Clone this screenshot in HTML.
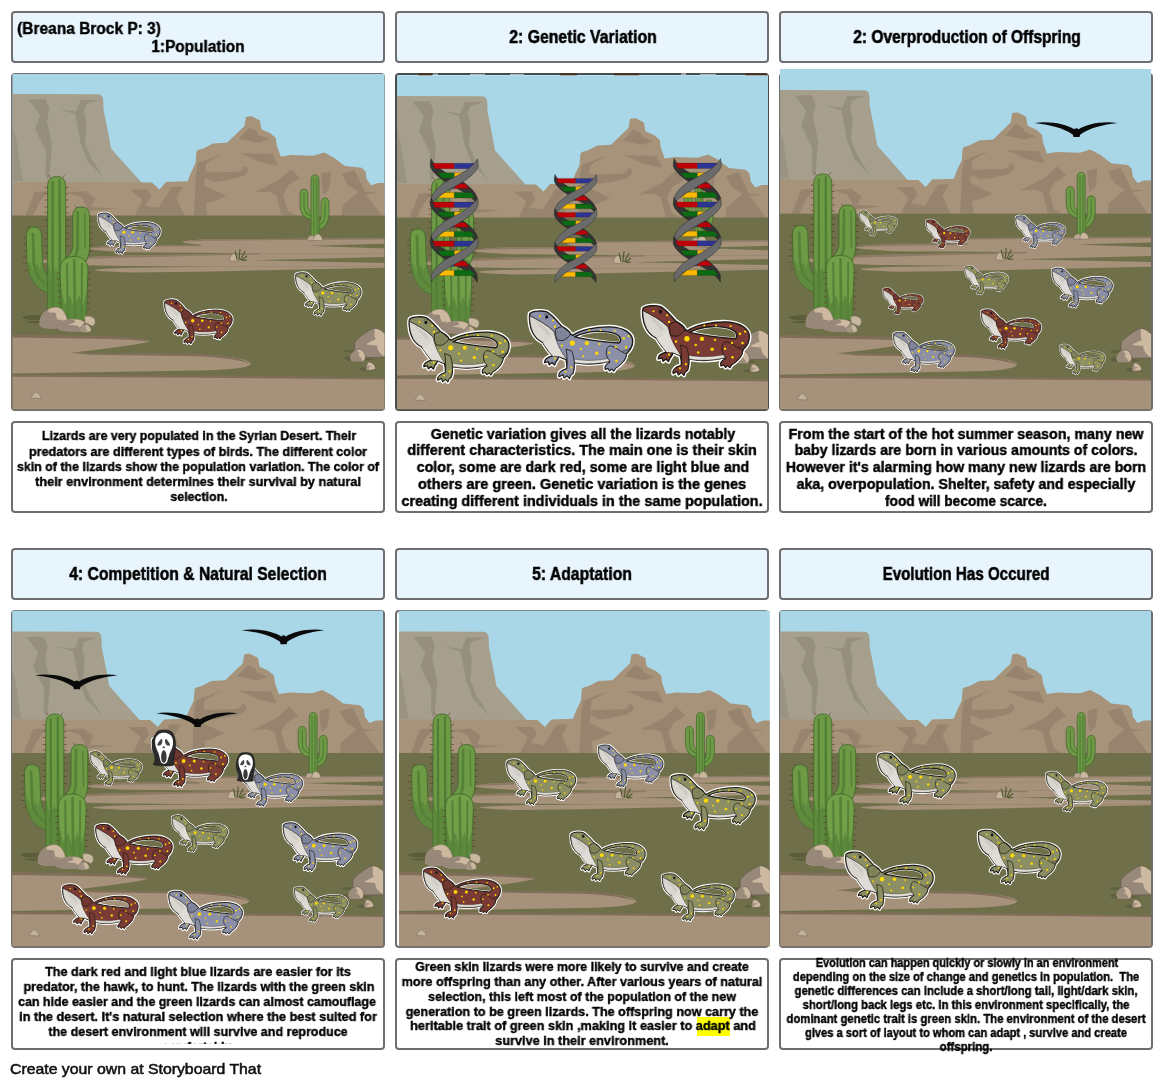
<!DOCTYPE html>
<html lang="en">
<head>
<meta charset="utf-8">
<title>Storyboard</title>
<style>
html,body{margin:0;padding:0;background:#fff;}
body{width:1165px;height:1087px;position:relative;overflow:hidden;font-family:"Liberation Sans",sans-serif;color:#000;}
.t,.i,.d{position:absolute;box-sizing:border-box;border:2px solid #6e6e6e;border-radius:4px;}
.t{height:52px;width:374px;background:#e8f5fd;}
.i{height:338px;width:374px;background:#fff;}
.i svg{position:absolute;left:-2px;top:-2px;width:374px;height:338px;overflow:visible;}
.d{height:92px;width:374px;background:#fff;overflow:hidden;}
.ln{position:absolute;white-space:nowrap;font-weight:bold;transform-origin:50% 50%;will-change:transform;}
.foot{position:absolute;left:10px;top:1059.8px;font-size:15px;line-height:18px;color:#111;white-space:nowrap;-webkit-text-stroke:0.55px #111;transform-origin:0 0;transform:scaleX(1.054);will-change:transform;}
</style>
</head>
<body>

<svg width="0" height="0" style="position:absolute">
<defs>
<clipPath id="cp"><rect x="0" y="0" width="374" height="338" rx="3"/></clipPath>
<g id="cactusBig">
  <!-- left arm -->
  <path d="M15.2,163 Q15.2,154 23,154 Q30.4,154 30.6,163 L31.3,186 Q32.5,200 38,205 L38,220 Q19,215 16,190 Z" fill="#6e9a46" stroke="#3f6429" stroke-width="0.8"/>
  <path d="M20.5,160 L21.5,192 Q24,208 38,213.5 L38,211 Q26.5,206 24.3,191 L23.2,160 Z" fill="#568238"/><path d="M16,190 Q19,215 38,220 L38,205 Q32.5,200 31.3,186 L29,196 L26,190 L22,198 L18,188 Z" fill="#568238" opacity="0.6"/>
  <!-- right arm -->
  <path d="M78.6,143 Q78.6,134 70.2,134 Q61.8,134 61.8,143 L61.8,172 Q61.5,182 53,186 L53,202 Q78,198 78.6,174 Z" fill="#6e9a46" stroke="#3f6429" stroke-width="0.8"/>
  <path d="M68,138 L68,176 Q66,190 54,195 L54,192 Q64,187 65,175 L65.5,138 Z" fill="#568238"/>
  <path d="M73,140 L73.5,176 L75,176 L74.5,140 Z" fill="#568238"/>
  <!-- trunk -->
  <path d="M36.6,113 Q36.6,103.5 45.6,103.5 Q54.6,103.5 54.6,113 L54.6,238 L36.6,238 Z" fill="#6e9a46" stroke="#3f6429" stroke-width="0.8"/>
  <path d="M40.5,108 L40.5,238 L43,238 L42.5,108 Z M47.5,106 L47.5,238 L50.5,238 L49.5,106 Z" fill="#4f7d34"/>
  <path d="M36.6,190 L41,205 L45,195 L49,208 L54.6,190 L54.6,238 L36.6,238 Z" fill="#568238" opacity="0.7"/>
  <!-- front -->
  <path d="M49,197 Q49,183.4 63,183.4 Q77,183.4 77,197 L75,247 L51,247 Z" fill="#72a049" stroke="#3f6429" stroke-width="0.8"/>
  <path d="M55,190 L55.5,247 L58,247 L57,190 Z M62,186 L62.5,247 L65.5,247 L64.5,186 Z M70,190 L69.5,247 L71.5,247 L72,190 Z" fill="#568238"/>
  <path d="M50,215 L54,232 L59,222 L63,236 L68,222 L72,233 L76.5,215 L75,247 L51,247 Z" fill="#568238" opacity="0.75"/>
  <!-- spines -->
  <g stroke="#5a3a24" stroke-width="0.6">
   <path d="M36.6,115 l-3,-1 M36.6,127 l-3,0 M36.6,140 l-3,-1 M36.6,153 l-3,0 M36.6,166 l-3,0 M36.6,180 l-3,0 M54.6,115 l3,-1 M54.6,127 l3,0 M54.6,140 l3,0 M54.6,153 l3,0 M54.6,166 l3,0 M15.2,165 l-3,0 M15.2,178 l-3,0 M15.2,190 l-3,0 M78.6,148 l3,0 M78.6,160 l3,0 M78.6,172 l3,0 M77,200 l3,0 M76.6,212 l3,0 M76.2,224 l3,0 M75.8,236 l3,0 M49,200 l-3,0 M49.5,212 l-3,0 M50,224 l-3,0 M39,104.5 l-1.5,-2.5 M52,104.5 l1.5,-2.5 M18,155.5 l-1.5,-2.5 M66,135 l-1.5,-2.5 M36.6,121 l-3,-0.5 M36.6,134 l-3,0 M36.6,147 l-3,0 M36.6,160 l-3,0 M36.6,173 l-3,0 M54.6,121 l3,-0.5 M54.6,134 l3,0 M54.6,147 l3,0 M54.6,160 l3,0 M54.6,173 l3,0 M15.2,171 l-3,0 M15.2,184 l-3,0 M16.5,197 l-3,0.5 M78.6,154 l3,0 M78.6,166 l3,0 M78.4,178 l3,0 M77,206 l3,0 M76.4,218 l3,0 M76,230 l3,0 M49,206 l-3,0 M49.7,218 l-3,0 M50.3,230 l-3,0"/>
  </g>
</g>
<g id="cactusSmall">
  <path d="M289,121 Q289,116 293,116 Q297,116 297,121 L297,133 Q297,138 301,139.5 L301,147 Q289.5,145 289,133 Z" fill="#6e9a46" stroke="#3f6429" stroke-width="0.7"/>
  <path d="M318,130 Q318,125 314,125 Q310,125 310,130 L310,143 Q310,148 307,150 L307,157 Q317.5,154 318,142 Z" fill="#6e9a46" stroke="#3f6429" stroke-width="0.7"/>
  <path d="M300,107 Q300,102 304,102 Q308,102 308,107 L308,164 L300,164 Z" fill="#6e9a46" stroke="#3f6429" stroke-width="0.7"/>
  <path d="M302.3,105 L302.3,164 L303.5,164 L303.3,105 Z M305.3,105 L305.3,164 L306.5,164 L306.3,105 Z M292.5,119 L292.5,134 Q293,141 300,143.5 L300,142 Q294,140 293.7,134 L293.5,119 Z M314.5,128 L314.5,143 Q314,150 308,153 L308,151.5 Q313,149 313.3,143 L313.5,128 Z" fill="#4f7d34"/>
  <path d="M296.5,167.5 Q296.5,162.5 301,162.5 Q304,162.5 305,167.5 Z" fill="#b9a790" stroke="#7d6e5f" stroke-width="0.5"/>
  <path d="M302.5,167.5 Q303,161 307,161 Q311,162 311.5,167.5 Z" fill="#c9b8a0" stroke="#7d6e5f" stroke-width="0.5"/>
</g>
<g id="bg">
  <rect x="0" y="-8" width="374" height="150" fill="#a9d7e8"/>
  <!-- far mesa -->
  <path d="M0,21 L86,21.3 Q92,21.3 92.2,27 L92.6,37 L98,64 L100,75.5 L131.6,110.8 L142,116 L0,116 Z" fill="#a69f8d"/>
  <path d="M17.5,26.5 L34.5,26.2 L38.5,35 L36,48 L41,72 L38.5,100 L36.5,108 L34.5,100 L35,78 L24,56 L29,42 Z" fill="#968f80"/>
  <path d="M47,36 L65,38.5 L70,27 L88,27 L75,31.5 L73,38 L75.5,50 L74,70 L80,85 L93,105 L77,89 L69.5,70 L66,50 L64,41 Z" fill="#968f80"/>
  <path d="M0,48 L6,70 L9,90 L12,108 L0,108 Z" fill="#9a9383"/>
  <!-- mid ridge -->
  <path d="M0,109 L141,109.5 L148.5,116.4 L155,109 L176.6,108.3 L180,99.5 L184.6,90 L185.4,78.6 L187,77 L192.6,75.4 L202,70.6 L216,69.8 L233.5,53 L235,44 Q238,43 240.8,43.3 L248.8,47.4 L250.4,56.2 L259.2,60.2 L264.8,65 L265.7,72.2 L269.7,83.5 L280,82 L302.6,82.7 L313,79.5 L323.4,85 L333.9,93 L350.7,94.7 L354.7,98.7 L355.5,106 L360.3,112.4 L366.8,110 L374,110 L374,144 L0,144 Z" fill="#a6937a"/>
  <g fill="#96846f">
   <path d="M228,65.8 L238.4,54.6 L245.6,57.8 L247.2,61.8 L258.4,66.6 L247.2,69.8 Z"/>
   <path d="M229.5,80.3 L261.6,81 L267.3,93.1 L249.6,89 Z"/>
   <path d="M194,99.5 L227,98.7 Q233,97 232.7,93 Q238,94 236.8,98 Q236,102 228.7,104.3 Q215,108 203,109 L193.4,104.3 Z"/>
   <path d="M187,90 L212.7,80.3 L195,90 L193.4,112.4 L215,122.8 L201.4,129.2 L195,130 L196.6,142.5 L183,142.5 L185,100 Z"/>
   <path d="M243.2,119.6 L267.3,107.5 L280,96.3 L289,105 L277,112.4 L272,122 L277,138 L285,142.5 L270.5,142.5 L265.6,122 L257.6,118.8 Z"/>
   <path d="M309.8,100.3 L320.2,98 L318.6,115.6 L312.2,122 Z"/>
   <path d="M330.7,101 L343.5,97 L354,118.8 L368.4,119.6 L354.7,121.2 L370.8,142.5 L330.7,142.5 L331.5,132.4 L347.5,118.8 L337,112.4 Z"/>
   <path d="M14.4,142.5 L24,118.8 L37,118 L28,130 L22,142.5 Z"/>
   <path d="M56,119.6 L73.8,118 L84.3,125.2 L80.3,134 L106,135.6 L77,138 L74,130 L70,124 Z"/>
   <path d="M118.8,116.4 L136.4,116.4 L140.4,123.6 L134,132.4 L147.7,134.8 L160.5,114 L171.7,114 L165.3,125.2 L173.4,142.5 L123.6,142.5 L131.6,126.8 Z"/>
  </g>
  <!-- ground -->
  <rect x="0" y="142.5" width="374" height="200" fill="#6f7049"/>
  <!-- sand bands upper -->
  <g fill="#a6917a">
   <path d="M374,165.3 L195,166.3 Q148,168.8 195,172.2 L374,172.2 Z"/>
   <path d="M374,172 L115,172 Q42,175.5 115,179.3 L250,180.3 L374,180.3 Z"/>
   <path d="M374,180.2 L250,180.2 L115,182.6 Q55,184.5 12,188.2 Q55,192.3 115,193 L200,193.8 L374,193.8 Z"/>
   <path d="M374,193.7 L200,193.7 L120,194.7 Q47,197 120,199.5 L187,198.7 L374,194.7 Z"/>
  </g>
  <path d="M374,165.3 L195,166.3 Q172,167.5 172,168.6 Q185,167.3 374,166.6 Z M115,172 Q80,173.5 79,175.6 Q95,173.8 190,173.3 L190,172 Z M250,180.2 L115,182.6 Q55,184.5 12,188.2 Q60,185.6 250,181.4 Z" fill="#86745f" opacity="0.8"/>
  <path d="M374,170.8 L299,172.8 L374,175.4 Z M374,184 L240,187.3 L374,190 Z" fill="#6f7049"/>
  <!-- sand lower -->
  <path d="M0,262 L100,264 Q139,266 138.8,268.5 Q120,273 59.4,279.8 L187,281.4 Q240,284 240,291 Q235,297 187,297.4 L0,300.6 Z" fill="#a6917a"/>
  <path d="M0,261.6 L100,263.2 Q135,265 138.8,268.5 Q122,266.6 100,266 L0,264.4 Z M59.4,279.8 L187,280.4 Q230,283 240,291 Q225,285 187,283.2 L80,281.8 Z" fill="#806e5b"/>
  <path d="M0,302.5 L187,303.5 L374,305.4 L374,342 L0,342 Z" fill="#a6917a"/>
  <path d="M0,301.5 L187,302.5 L374,304.4 L374,306.4 L187,304.8 L0,303.8 Z" fill="#806e5b"/>
  <!-- shadows -->
  <path d="M11,244.5 Q14,241.5 30,242 L30,247 Q14,247.5 11,244.5 Z M13.5,249 Q20,247.5 29,248 L29,250 Q20,250.5 13.5,249 Z" fill="#5b5c3a"/>
  
  <!-- rocks left -->
  <use href="#cactusBig"/>
  <path d="M73.5,243.6 C77.0,242.3 81.3,243.2 83.8,246.2 C84.7,249.6 83.8,252.2 81.3,253.1 L77.0,250.9 L74.0,249.6 Z" fill="#c9b8a0" stroke="#7d6e5f" stroke-width="0.5"/>
  <path d="M28.9,253.1 C28.0,246.2 29.8,241.0 36.6,236.7 C41.8,233.3 48.6,232.9 52.1,237.6 C54.6,241.0 55.9,244.5 56.4,247.0 L46.1,251.3 L45.2,255.2 C38.3,255.6 31.5,255.6 28.9,253.1 Z" fill="#cdb9a0" stroke="#7d6e5f" stroke-width="0.5"/>
  <path d="M28.9,253.1 C28.0,246.2 29.8,241.0 36.6,236.7 L38.3,239.7 C41.8,239.3 46.1,239.7 45.2,241.9 C44.3,243.6 46.9,244.5 46.1,246.6 L52.1,247.0 L46.1,251.3 L45.2,255.2 C38.3,255.6 31.5,255.6 28.9,253.1 Z" fill="#98887a"/>
  <path d="M45.6,254.8 C45.2,251.3 48.6,248.8 55.5,247.0 C62.4,245.3 71.0,245.8 74.0,249.6 L69.2,254.8 L69.2,258.2 C59.8,259.1 48.6,258.6 45.6,254.8 Z" fill="#cdb9a0" stroke="#7d6e5f" stroke-width="0.5"/>
  <path d="M45.6,254.8 C45.2,251.3 48.6,248.8 55.5,247.0 L63.2,246.6 L64.1,249.6 L57.2,251.8 L65.8,252.6 L69.2,254.8 L69.2,258.2 C59.8,259.1 48.6,258.6 45.6,254.8 Z" fill="#98887a"/>
  <path d="M69.2,258.2 C68.8,254.8 71.8,251.3 75.2,251.2 C78.7,252.2 80.4,255.6 80.0,258.2 C77.0,259.5 71.8,259.5 69.2,258.2 Z" fill="#c9b8a0" stroke="#7d6e5f" stroke-width="0.5"/>
  <path d="M69.2,258.2 C68.8,254.8 71.8,251.3 75.2,251.2 L74.4,254.8 L76.1,257.3 L75.2,259.1 C72.7,259.2 71.0,259.1 69.2,258.2 Z" fill="#a39382"/>
  <!-- rocks right -->
  <path d="M332.3,278.2 C335.0,276.5 340.6,276.8 343.6,277.1 L343.6,279.6 C339.5,279.7 335.0,279.6 332.3,278.2 Z M332.8,285.6 C334.5,283.4 337.2,283.1 339.5,283.4 L340.6,288.1 C337.2,288.1 333.9,287.6 332.8,285.6 Z M347.7,295.8 C349.9,293.9 353.8,293.9 355.5,294.5 L355.7,297.5 C352.7,297.8 349.4,297.5 347.7,295.8 Z M364.3,296.7 L368.2,297.2 L364.6,297.7 Z M354.6,285.1 L363.7,286.7 L354.9,287.8 Z" fill="#5f6040"/>
  <path d="M343.6,277.1 L343.9,269.1 C347.2,264.7 354.9,258.6 362.6,255.3 C367.0,255.3 370.9,258.0 373.1,260.2 L374.2,260.8 L374.2,284.3 L355.5,284.5 Z" fill="#98887a" stroke="#5e5248" stroke-width="0.6"/>
  <path d="M363.7,255.8 C367.0,255.3 370.9,258.0 373.1,260.2 L374.2,260.8 L374.2,283.7 C370.4,282.3 367.6,279.0 366.5,275.7 L365.9,272.4 L356.6,271.8 L355.5,270.7 L364.8,266.3 L363.5,263.6 Z" fill="#cdb9a0"/>
  <path d="M339.2,285.1 C338.9,282.3 341.7,277.9 347.7,276.0 C351.6,276.2 354.1,280.1 354.6,283.4 C354.4,286.7 352.7,288.4 351.6,288.4 L340.6,288.3 Z" fill="#cdb9a0" stroke="#5e5248" stroke-width="0.6"/>
  <path d="M339.2,285.1 C338.9,282.3 341.7,277.9 345.5,276.7 L348.8,280.7 L347.2,281.8 L350.5,285.6 L351.6,288.4 L340.6,288.3 Z" fill="#9c8c7c"/>
  <path d="M355.5,296.7 C354.9,292.8 356.0,289.5 358.2,288.9 C361.5,289.5 364.3,292.3 364.6,295.6 C363.7,297.2 357.1,297.5 355.5,296.7 Z" fill="#cdb9a0" stroke="#5e5248" stroke-width="0.6"/>
  <path d="M355.5,296.7 C355.2,293.9 355.5,291.2 356.6,290.0 L357.7,292.8 L361.5,293.1 L358.2,294.5 L357.1,296.9 Z" fill="#a39382"/>
  <!-- pebble, grass -->
  <path d="M20,325 Q22,320 25.5,319 Q29,321 30.5,325.5 Z" fill="#c4b39b" stroke="#7d6e5f" stroke-width="0.6"/>
  <path d="M218.3,188 Q219,181 223,180.5 Q227,182 227.5,188.3 Z" fill="#c4b39b" stroke="#7d6e5f" stroke-width="0.6"/>
  <path d="M226,187 L224,178 M228,187 L229,176 M229.5,187 L234,178 M230.5,187.3 L236,183 M231,187.5 L236,187" stroke="#4c5a2c" stroke-width="1.1" fill="none"/>
  <use href="#cactusSmall"/>
</g>
<symbol id="liz" viewBox="54 84 1037 692" overflow="visible">
  <path id="lizS" fill-rule="evenodd" d="M80,128 C110,100 200,98 245,112 C290,135 340,195 388,250 C420,268 462,290 472,322 L492,338 C570,285 720,252 860,256 C990,262 1072,320 1072,392 C1072,440 1050,480 1012,515 C1010,540 1000,565 985,585 C960,620 930,640 905,655 L890,682 L870,660 L850,680 L835,655 L808,665 C800,640 815,615 850,600 L855,585 C760,612 620,622 508,600 C510,640 505,680 495,705 L470,725 L462,752 L440,725 L410,748 L400,715 L362,735 C355,700 385,675 438,660 C440,630 436,600 428,570 C405,562 380,550 360,540 C355,560 345,580 330,595 L318,625 L295,600 L268,622 L258,592 L222,600 C220,570 250,548 300,535 C260,490 225,440 205,405 C130,370 78,290 76,160 Z M498,352 C640,279 818,277 915,318 C968,341 977,399 946,421 C800,409 650,395 498,352 Z" fill="#fff" stroke="#fff" stroke-width="40" stroke-linejoin="round"/>
  <path fill-rule="evenodd" d="M80,128 C110,100 200,98 245,112 C290,135 340,195 388,250 C420,268 462,290 472,322 L492,338 C570,285 720,252 860,256 C990,262 1072,320 1072,392 C1072,440 1050,480 1012,515 C1010,540 1000,565 985,585 C960,620 930,640 905,655 L890,682 L870,660 L850,680 L835,655 L808,665 C800,640 815,615 850,600 L855,585 C760,612 620,622 508,600 C510,640 505,680 495,705 L470,725 L462,752 L440,725 L410,748 L400,715 L362,735 C355,700 385,675 438,660 C440,630 436,600 428,570 C405,562 380,550 360,540 C355,560 345,580 330,595 L318,625 L295,600 L268,622 L258,592 L222,600 C220,570 250,548 300,535 C260,490 225,440 205,405 C130,370 78,290 76,160 Z M512,352 C640,288 815,286 910,326 C958,348 966,394 940,412 C800,400 650,386 512,352 Z" fill="currentColor" stroke="#1c1a14" stroke-width="13" stroke-linejoin="round"/>
  <!-- throat / chest -->
  <path d="M82,150 C150,185 250,235 312,300 C322,390 370,480 430,567 L360,540 L300,535 C260,490 225,440 205,405 C130,370 80,290 78,160 Z" fill="#d9d5cf" stroke="#1c1a14" stroke-width="8" stroke-linejoin="round"/>
  <path d="M205,405 C250,410 290,380 312,300 C322,390 370,480 430,567 L360,540 L300,535 C260,490 225,440 205,405 Z" fill="#e0ddd8"/>
  <path d="M140,205 C200,240 250,280 268,330 M165,240 C210,270 240,300 250,335" fill="none" stroke="#aaa59d" stroke-width="5"/>
  <!-- belly -->
  <path d="M508,566 C620,590 760,580 855,556 L855,585 C760,612 620,622 508,600 Z" fill="#e4e1dc" stroke="#26241c" stroke-width="4" stroke-linejoin="round"/>
  <!-- legs -->
  <path d="M430,470 C442,540 442,600 438,660 C385,675 355,700 362,735 L400,715 L410,748 L440,725 L462,752 L470,725 L495,705 C505,680 510,640 508,600 C505,560 498,520 485,490 Z" fill="currentColor" stroke="#1c1a14" stroke-width="8" stroke-linejoin="round"/>
  <path d="M1012,515 C960,505 905,440 850,440 C812,452 806,520 832,560 C846,580 856,590 850,600 C815,615 800,640 808,665 L835,655 L850,680 L870,660 L890,682 L905,655 C930,640 960,620 985,585 C1000,565 1010,540 1012,515 Z" fill="currentColor" stroke="#1c1a14" stroke-width="8" stroke-linejoin="round"/>
  <path d="M975,490 C1000,490 1030,478 1045,462" fill="none" stroke="#26241c" stroke-width="7"/>
  <!-- frill -->
  <path d="M330,275 C325,320 330,360 345,385 L400,388 C440,370 465,345 472,322 C450,300 420,275 388,252 Z" fill="currentColor" stroke="#1c1a14" stroke-width="8" stroke-linejoin="round"/>
  <path d="M330,275 C325,320 330,360 345,385 L400,388 C440,370 465,345 472,322 C450,300 420,275 388,252 Z" fill="#000" opacity="0.05"/>
  <path d="M350,300 L362,380 M375,295 L395,380 M400,295 L430,362" fill="none" stroke="#26241c" stroke-width="3" opacity="0.5"/>
  <!-- eye -->
  <ellipse cx="243" cy="161" rx="15" ry="17" fill="#111"/>
  <path d="M215,140 C230,128 255,130 270,142" fill="none" stroke="#26241c" stroke-width="4"/>
  <!-- spots -->
  <g fill="#ffd800">
   <circle cx="178" cy="155" r="10"/><circle cx="305" cy="193" r="10"/><circle cx="323" cy="255" r="11"/>
   <circle cx="388" cy="437" r="11"/><circle cx="490" cy="412" r="25"/><circle cx="630" cy="413" r="20"/>
   <circle cx="572" cy="470" r="11"/><circle cx="595" cy="540" r="11"/><circle cx="725" cy="510" r="16"/>
   <circle cx="752" cy="422" r="11"/><circle cx="652" cy="288" r="9"/><circle cx="762" cy="288" r="10"/>
   <circle cx="898" cy="293" r="10"/><circle cx="985" cy="365" r="12"/><circle cx="1033" cy="345" r="11"/>
   <circle cx="1008" cy="452" r="12"/><circle cx="910" cy="450" r="11"/><circle cx="845" cy="505" r="11"/>
   <circle cx="915" cy="585" r="12"/><circle cx="322" cy="560" r="10"/><circle cx="480" cy="648" r="11"/>
   <circle cx="425" cy="688" r="10"/>
  </g>
</symbol>
<symbol id="dna" viewBox="58 48 304 777" preserveAspectRatio="none" overflow="visible">
  <g id="dseg">
    <path d="M65,53 C85,106 180,154 237,182 C290,210 340,252 354,296 L354,338 C335,302 280,266 220,233 C160,200 75,154 60,99 Q60,75 65,53 Z" fill="#333" stroke="#1e1e1e" stroke-width="3"/>
    <g stroke="#2a2218" stroke-width="1.5">
    <path d="M73.6,80.8 L210.7,80.8 L210.7,114.6 L90.6,114.6 Z" fill="#c00008"/><path d="M210.7,80.8 L337.6,80.8 L302,114.6 L210.7,114.6 Z" fill="#2c3494"/>
    <path d="M104,140.7 L210.7,140.7 L210.7,173.9 L132.9,173.9 Z" fill="#0b6b12"/><path d="M210.7,140.7 L270,140.7 L225,173.9 L210.7,173.9 Z" fill="#fbb900"/>
    <path d="M160,207.7 L210.7,207.7 L210.7,238 L150,238 Z" fill="#2c3494"/><path d="M210.7,207.7 L278.6,207.7 L302,238 L210.7,238 Z" fill="#c00008"/>
    <path d="M146.4,263.5 L210.7,263.5 L210.7,297.4 L109.2,297.4 Z" fill="#fbb900"/><path d="M210.7,263.5 L314,263.5 L342.7,297.4 L210.7,297.4 Z" fill="#0b6b12"/>
    </g>
    <path d="M355,53 C335,106 240,154 183,182 C130,210 80,252 66,296 L66,338 C85,302 140,266 200,233 C260,200 345,154 360,99 Q360,75 355,53 Z" fill="#6b6b6b" stroke="#2a2a2a" stroke-width="3"/>
  </g>
  <use href="#dseg" y="242.5"/>
  <use href="#dseg" y="485"/>
</symbol>
<symbol id="bird" viewBox="105 78 525 97" overflow="visible">
  <path d="M105,86 C200,72 305,92 357,126 Q371,112 385,126 C435,92 540,72 630,86 C545,96 445,120 394,160 L391,175 L352,175 L349,160 C298,120 195,96 105,86 Z" fill="#0a0a0a"/>
</symbol>
<symbol id="mask" viewBox="100 95 590 905" preserveAspectRatio="none" overflow="visible">
  <path d="M390,100 C300,95 230,110 200,180 C130,270 100,400 110,560 C115,650 160,720 175,800 C180,860 150,920 125,945 C200,990 560,1000 640,960 C610,900 640,760 660,640 C690,500 690,330 620,200 C590,120 500,100 390,100 Z" fill="#2b2b2b" stroke="#151515" stroke-width="14"/>
  <path d="M390,165 C280,165 200,230 180,340 C165,450 200,560 250,650 C280,720 290,820 320,890 C350,950 440,950 470,890 C500,810 520,700 560,620 C610,540 630,430 610,330 C590,220 500,165 390,165 Z" fill="#fff"/>
  <path d="M335,318 C300,340 240,420 228,470 C240,500 290,490 320,470 C360,440 370,350 335,318 Z M440,318 C475,340 535,420 547,470 C535,500 485,490 455,470 C415,440 405,350 440,318 Z" fill="#444"/>
  <path d="M390,495 L425,545 L405,548 L390,525 L375,548 L350,545 Z" fill="#222"/>
  <path d="M390,600 C340,610 320,700 325,790 C330,870 360,910 390,910 C425,910 455,860 458,780 C460,690 440,610 390,600 Z" fill="#3a3a3a"/>
</symbol>
</defs>
</svg>

<div class="t" style="left:11px;top:11px"><div class="ln" style="font-size:16.8px;line-height:18.9px;top:6.51px;left:76.0px;transform:translateX(-50%) scaleX(0.9233);-webkit-text-stroke:0.4px #000">(Breana Brock P: 3)</div><div class="ln" style="font-size:16.8px;line-height:18.9px;top:25.41px;left:184.9px;transform:translateX(-50%) scaleX(0.9182);-webkit-text-stroke:0.4px #000">1:Population</div></div>
<div class="i" style="left:11px;top:73px"><svg viewBox="11 73 374 338"><clipPath id="c0"><rect x="12.5" y="74" width="372" height="335.3"/></clipPath><g clip-path="url(#c0)"><use href="#bg" transform="translate(11,73) scale(1,1)"/><use href="#liz" x="96.6" y="211.8" width="65.0" height="43.2" style="color:#8b90a8"/><use href="#liz" x="163.0" y="298.4" width="70.7" height="47.0" style="color:#7a3b35"/><use href="#liz" x="294.0" y="271.4" width="68.5" height="45.5" style="color:#8b8f63"/></g></svg></div>
<div class="d" style="left:11px;top:421px;"><div class="ln" style="font-size:13.0px;line-height:15.1px;top:5.41px;left:185.6px;transform:translateX(-50%) scaleX(0.9534);-webkit-text-stroke:0.4px #000">Lizards are very populated in the Syrian Desert. Their</div><div class="ln" style="font-size:13.0px;line-height:15.1px;top:20.51px;left:184.9px;transform:translateX(-50%) scaleX(0.9691);-webkit-text-stroke:0.4px #000">predators are different types of birds. The different color</div><div class="ln" style="font-size:13.0px;line-height:15.1px;top:35.61px;left:184.9px;transform:translateX(-50%) scaleX(0.9549);-webkit-text-stroke:0.4px #000">skin of the lizards show the population variation. The color of</div><div class="ln" style="font-size:13.0px;line-height:15.1px;top:50.71px;left:184.9px;transform:translateX(-50%) scaleX(0.9780);-webkit-text-stroke:0.4px #000">their environment determines their survival by natural</div><div class="ln" style="font-size:13.0px;line-height:15.1px;top:65.81px;left:185.9px;transform:translateX(-50%) scaleX(0.9555);-webkit-text-stroke:0.4px #000">selection.</div></div>
<div class="t" style="left:395px;top:11px"><div class="ln" style="font-size:18.6px;line-height:20px;top:14.06px;left:185.5px;transform:translateX(-50%) scaleX(0.8497);-webkit-text-stroke:0.55px #000">2: Genetic Variation</div></div>
<div class="i" style="left:395px;top:73px;border-color:#474d4d"><svg viewBox="395 73 374 338"><clipPath id="c1"><rect x="397" y="75.3" width="371" height="334"/></clipPath><g clip-path="url(#c1)"><use href="#bg" transform="translate(395,75) scale(1,1)"/><use href="#dna" x="430.0" y="158.0" width="48.5" height="124.5"/><use href="#dna" x="554.0" y="173.8" width="43.2" height="109.0"/><use href="#dna" x="673.0" y="157.8" width="48.6" height="124.4"/><use href="#liz" x="406.7" y="314.8" width="104.5" height="69.5" style="color:#8b8f63"/><use href="#liz" x="526.9" y="309.0" width="108.0" height="71.8" style="color:#8b90a8"/><use href="#liz" x="640.0" y="303.6" width="111.6" height="74.2" style="color:#7a3b35"/></g><path d="M418.3,73.6h13.7v1.6h-13.7z M560,73.6h17v1.6h-17z M614,73.6h25v1.6h-25z M745.4,73.6h21.4v1.6h-21.4z" fill="#4a2a14"/><path d="M433,73.6h5v1.5h-5z M470,73.8h15v1.3h-15z M510,73.8h14v1.3h-14z M681,73.2h5v2h-5z M700,73.8h16v1.3h-16z" fill="#a9adad"/></svg></div>
<div class="d" style="left:395px;top:421px;"><div class="ln" style="font-size:15.3px;line-height:16.72px;top:2.71px;left:185.5px;transform:translateX(-50%) scaleX(0.9304);-webkit-text-stroke:0.45px #000">Genetic variation gives all the lizards notably</div><div class="ln" style="font-size:15.3px;line-height:16.72px;top:19.42px;left:185.3px;transform:translateX(-50%) scaleX(0.9449);-webkit-text-stroke:0.45px #000">different characteristics. The main one is their skin</div><div class="ln" style="font-size:15.3px;line-height:16.72px;top:36.15px;left:185.8px;transform:translateX(-50%) scaleX(0.9338);-webkit-text-stroke:0.45px #000">color, some are dark red, some are light blue and</div><div class="ln" style="font-size:15.3px;line-height:16.72px;top:52.87px;left:185.2px;transform:translateX(-50%) scaleX(0.9506);-webkit-text-stroke:0.45px #000">others are green. Genetic variation is the genes</div><div class="ln" style="font-size:15.3px;line-height:16.72px;top:69.58px;left:185.2px;transform:translateX(-50%) scaleX(0.9399);-webkit-text-stroke:0.45px #000">creating different individuals in the same population.</div></div>
<div class="t" style="left:779px;top:11px"><div class="ln" style="font-size:18.6px;line-height:20px;top:14.06px;left:185.5px;transform:translateX(-50%) scaleX(0.8342);-webkit-text-stroke:0.55px #000">2: Overproduction of Offspring</div></div>
<div class="i" style="left:779px;top:73px"><svg viewBox="779 73 374 338"><clipPath id="c2"><rect x="780" y="69" width="371.2" height="340.2"/></clipPath><g clip-path="url(#c2)"><use href="#bg" transform="translate(777.2,68.5) scale(1,1.0186)"/><use href="#bird" x="1034.4" y="121.7" width="83.0" height="15.3"/><use href="#liz" x="858.4" y="210.0" width="39.7" height="26.4" style="color:#8b8f63"/><use href="#liz" x="925.0" y="218.8" width="45.7" height="30.4" style="color:#7a3b35"/><use href="#liz" x="1014.6" y="214.8" width="51.7" height="34.4" style="color:#8b90a8"/><use href="#liz" x="963.7" y="265.2" width="45.4" height="30.2" style="color:#8b8f63"/><use href="#liz" x="1050.7" y="266.9" width="63.0" height="41.9" style="color:#8b90a8"/><use href="#liz" x="882.0" y="287.3" width="42.0" height="27.9" style="color:#7a3b35"/><use href="#liz" x="979.8" y="308.5" width="62.5" height="41.5" style="color:#7a3b35"/><use href="#liz" x="892.0" y="331.0" width="63.7" height="42.3" style="color:#8b90a8"/><use href="#liz" x="1059.0" y="343.8" width="46.9" height="31.2" style="color:#8b8f63"/></g></svg></div>
<div class="d" style="left:779px;top:421px;"><div class="ln" style="font-size:15.3px;line-height:16.72px;top:2.71px;left:185.2px;transform:translateX(-50%) scaleX(0.9343);-webkit-text-stroke:0.45px #000">From the start of the hot summer season, many new</div><div class="ln" style="font-size:15.3px;line-height:16.72px;top:19.42px;left:185.4px;transform:translateX(-50%) scaleX(0.9231);-webkit-text-stroke:0.45px #000">baby lizards are born in various amounts of colors.</div><div class="ln" style="font-size:15.3px;line-height:16.72px;top:36.15px;left:185.2px;transform:translateX(-50%) scaleX(0.9271);-webkit-text-stroke:0.45px #000">However it's alarming how many new lizards are born</div><div class="ln" style="font-size:15.3px;line-height:16.72px;top:52.87px;left:185.0px;transform:translateX(-50%) scaleX(0.9268);-webkit-text-stroke:0.45px #000">aka, overpopulation. Shelter, safety and especially</div><div class="ln" style="font-size:15.3px;line-height:16.72px;top:69.58px;left:184.9px;transform:translateX(-50%) scaleX(0.8941);-webkit-text-stroke:0.45px #000">food will become scarce.</div></div>
<div class="t" style="left:11px;top:548px"><div class="ln" style="font-size:18.6px;line-height:20px;top:14.06px;left:185.1px;transform:translateX(-50%) scaleX(0.8424);-webkit-text-stroke:0.55px #000">4: Competition &amp; Natural Selection</div></div>
<div class="i" style="left:11px;top:610px"><svg viewBox="11 610 374 338"><clipPath id="c3"><rect x="12.2" y="610.8" width="371" height="335.4"/></clipPath><g clip-path="url(#c3)"><use href="#bg" transform="translate(9.2,610.5) scale(1,1)"/><use href="#bird" x="241.5" y="628.9" width="83.0" height="15.3"/><use href="#bird" x="34.8" y="674.0" width="83.0" height="15.3"/><use href="#liz" x="88.9" y="750.6" width="54.0" height="35.9" style="color:#8b8f63"/><use href="#liz" x="150.4" y="736.1" width="79.0" height="52.5" style="color:#7a3b35"/><use href="#liz" x="236.9" y="763.1" width="67.2" height="44.7" style="color:#8b90a8"/><use href="#bird" x="156.2" y="712.0" width="81.5" height="15.1"/><use href="#mask" x="152.0" y="729.8" width="24.0" height="36.7"/><use href="#mask" x="236.0" y="752.3" width="19.2" height="29.8"/><use href="#liz" x="93.9" y="822.9" width="80.0" height="53.2" style="color:#7a3b35"/><use href="#liz" x="170.8" y="814.4" width="58.0" height="38.6" style="color:#8b8f63"/><use href="#liz" x="281.4" y="821.4" width="77.0" height="51.2" style="color:#8b90a8"/><use href="#liz" x="60.7" y="883.2" width="79.0" height="52.5" style="color:#7a3b35"/><use href="#liz" x="167.0" y="889.8" width="77.0" height="51.2" style="color:#8b90a8"/><use href="#liz" x="293.0" y="885.9" width="55.6" height="37.0" style="color:#8b8f63"/></g></svg></div>
<div class="d" style="left:11px;top:958px;"><div style="position:absolute;left:0;top:0;width:370px;height:83.5px;overflow:hidden"><div class="ln" style="font-size:13.3px;line-height:15.15px;top:3.60px;left:185.3px;transform:translateX(-50%) scaleX(0.9492);-webkit-text-stroke:0.4px #000">The dark red and light blue lizards are easier for its</div><div class="ln" style="font-size:13.3px;line-height:15.15px;top:18.75px;left:185.5px;transform:translateX(-50%) scaleX(0.9461);-webkit-text-stroke:0.4px #000">predator, the hawk, to hunt. The lizards with the green skin</div><div class="ln" style="font-size:13.3px;line-height:15.15px;top:33.90px;left:184.4px;transform:translateX(-50%) scaleX(0.9327);-webkit-text-stroke:0.4px #000">can hide easier and the green lizards can almost camouflage</div><div class="ln" style="font-size:13.3px;line-height:15.15px;top:49.05px;left:185.2px;transform:translateX(-50%) scaleX(0.9524);-webkit-text-stroke:0.4px #000">in the desert. It's natural selection where the best suited for</div><div class="ln" style="font-size:13.3px;line-height:15.15px;top:64.20px;left:185.2px;transform:translateX(-50%) scaleX(0.9398);-webkit-text-stroke:0.4px #000">the desert environment will survive and reproduce</div><div class="ln" style="font-size:13.3px;line-height:15.15px;top:79.35px;left:185.2px;transform:translateX(-50%) scaleX(0.9022);-webkit-text-stroke:0.4px #000">comfortably.</div></div></div>
<div class="t" style="left:395px;top:548px"><div class="ln" style="font-size:18.6px;line-height:20px;top:14.06px;left:184.6px;transform:translateX(-50%) scaleX(0.8444);-webkit-text-stroke:0.55px #000">5: Adaptation</div></div>
<div class="i" style="left:395px;top:610px"><svg viewBox="395 610 374 338"><clipPath id="c4"><rect x="399" y="610.8" width="370.8" height="335.4"/></clipPath><g clip-path="url(#c4)"><use href="#bg" transform="translate(396.4,610.5) scale(1,1)"/><use href="#liz" x="596.8" y="743.7" width="67.6" height="44.9" style="color:#8b90a8"/><use href="#liz" x="505.2" y="758.4" width="72.0" height="47.9" style="color:#8b8f63"/><use href="#liz" x="669.0" y="773.0" width="88.0" height="58.5" style="color:#8b8f63"/><use href="#liz" x="568.9" y="830.6" width="78.0" height="51.8" style="color:#8b8f63"/><use href="#liz" x="660.5" y="872.4" width="75.4" height="50.1" style="color:#8b8f63"/><use href="#liz" x="421.7" y="866.6" width="80.4" height="53.4" style="color:#7a3b35"/></g></svg></div>
<div class="d" style="left:395px;top:958px;"><div style="position:absolute;left:299.6px;top:57px;width:33.3px;height:18.8px;background:#ffff00"></div><div class="ln" style="font-size:13.3px;line-height:14.9px;top:-0.21px;left:185.3px;transform:translateX(-50%) scaleX(0.9307);-webkit-text-stroke:0.4px #000">Green skin lizards were more likely to survive and create</div><div class="ln" style="font-size:13.3px;line-height:14.9px;top:14.70px;left:185.2px;transform:translateX(-50%) scaleX(0.9490);-webkit-text-stroke:0.4px #000">more offspring than any other. After various years of natural</div><div class="ln" style="font-size:13.3px;line-height:14.9px;top:29.60px;left:185.1px;transform:translateX(-50%) scaleX(0.9366);-webkit-text-stroke:0.4px #000">selection, this left most of the population of the new</div><div class="ln" style="font-size:13.3px;line-height:14.9px;top:44.50px;left:185.1px;transform:translateX(-50%) scaleX(0.9488);-webkit-text-stroke:0.4px #000">generation to be green lizards. The offspring now carry the</div><div class="ln" style="font-size:13.3px;line-height:14.9px;top:59.40px;left:185.5px;transform:translateX(-50%) scaleX(0.9568);-webkit-text-stroke:0.4px #000">heritable trait of green skin ,making it easier to adapt and</div><div class="ln" style="font-size:13.3px;line-height:14.9px;top:74.30px;left:185.3px;transform:translateX(-50%) scaleX(0.9550);-webkit-text-stroke:0.4px #000">survive in their environment.</div></div>
<div class="t" style="left:779px;top:548px"><div class="ln" style="font-size:18.6px;line-height:20px;top:14.06px;left:185.0px;transform:translateX(-50%) scaleX(0.8153);-webkit-text-stroke:0.55px #000">Evolution Has Occured</div></div>
<div class="i" style="left:779px;top:610px"><svg viewBox="779 610 374 338"><clipPath id="c5"><rect x="780.2" y="610.8" width="371" height="335.4"/></clipPath><g clip-path="url(#c5)"><use href="#bg" transform="translate(777.2,610.5) scale(1,1)"/><use href="#liz" x="875.9" y="751.4" width="81.0" height="53.8" style="color:#8b8f63"/><use href="#liz" x="1044.8" y="770.7" width="63.4" height="42.1" style="color:#8b8f63"/><use href="#liz" x="976.4" y="828.7" width="85.4" height="56.8" style="color:#8b8f63"/><use href="#liz" x="843.5" y="850.3" width="91.6" height="60.9" style="color:#8b8f63"/></g></svg></div>
<div class="d" style="left:779px;top:958px;overflow:visible;"><div class="ln" style="font-size:12.5px;line-height:14.05px;top:-4.20px;left:185.7px;transform:translateX(-50%) scaleX(0.8760);-webkit-text-stroke:0.4px #000">Evolution can happen quickly or slowly in an environment</div><div class="ln" style="font-size:12.5px;line-height:14.05px;top:9.85px;left:185.4px;transform:translateX(-50%) scaleX(0.8920);-webkit-text-stroke:0.4px #000">depending on the size of change and genetics in population.&nbsp; The</div><div class="ln" style="font-size:12.5px;line-height:14.05px;top:23.90px;left:185.4px;transform:translateX(-50%) scaleX(0.9075);-webkit-text-stroke:0.4px #000">genetic differences can include a short/long tail, light/dark skin,</div><div class="ln" style="font-size:12.5px;line-height:14.05px;top:37.95px;left:184.9px;transform:translateX(-50%) scaleX(0.9053);-webkit-text-stroke:0.4px #000">short/long back legs etc. In this environment specifically, the</div><div class="ln" style="font-size:12.5px;line-height:14.05px;top:52.00px;left:184.8px;transform:translateX(-50%) scaleX(0.9054);-webkit-text-stroke:0.4px #000">dominant genetic trait is green skin. The environment of the desert</div><div class="ln" style="font-size:12.5px;line-height:14.05px;top:66.05px;left:184.9px;transform:translateX(-50%) scaleX(0.8895);-webkit-text-stroke:0.4px #000">gives a sort of layout to whom can adapt , survive and create</div><div class="ln" style="font-size:12.5px;line-height:14.05px;top:80.10px;left:185.2px;transform:translateX(-50%) scaleX(0.9162);-webkit-text-stroke:0.4px #000">offspring.</div></div>
<div class="foot">Create your own at Storyboard That</div>
</body></html>
